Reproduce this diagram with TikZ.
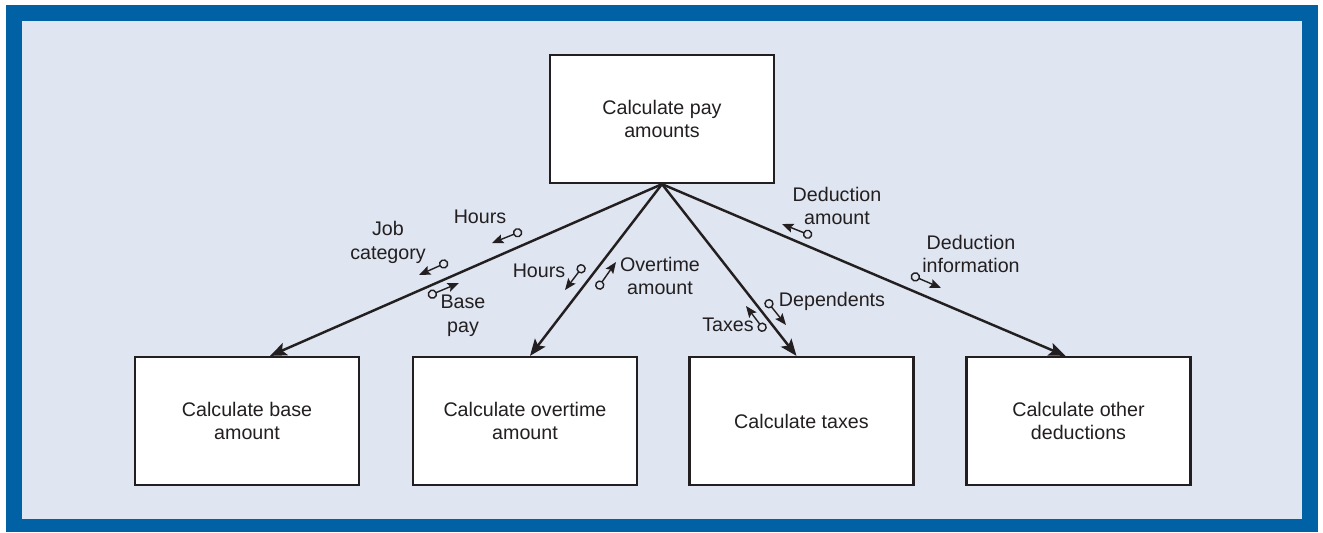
\documentclass[tikz,border=0pt]{standalone}
\usepackage{fontspec}
\setmainfont{Liberation Sans}
\usetikzlibrary{arrows.meta}

\definecolor{frameblue}{RGB}{0,97,165}
\definecolor{panel}{RGB}{223,229,241}
\definecolor{ink}{RGB}{35,31,32}

\tikzset{
  module/.style={draw=ink,fill=white,line width=1.3pt,minimum width=4.48cm,minimum height=2.56cm,align=center,text=ink},
  call/.style={draw=ink,line width=1.4pt,-{Stealth[length=9.5pt,width=7.5pt,inset=2pt]}},
  couple/.style={draw=ink,line width=.8pt,{Circle[open,length=5.4pt,width=5.4pt,line width=.8pt]}-{Stealth[length=6.5pt,width=5.2pt,inset=1.2pt]}},
  flow/.style={align=center,text=ink,inner sep=0pt}
}

\begin{document}
\begin{tikzpicture}[x=.02cm,y=-.02cm,font=\fontsize{11.2pt}{13.6pt}\selectfont]
\useasboundingbox (0,0) rectangle (1323,532);
\fill[frameblue] (6,5) rectangle (1318,532);
\fill[panel] (22,21) rectangle (1302,519);

% modules
\node[module] (pay) at (662,119) {Calculate pay\\amounts};
\node[module] (base) at (247,421) {Calculate base\\amount};
\node[module] (over) at (525,421) {Calculate overtime\\amount};
\node[module] (tax) at (801.5,421) {Calculate taxes};
\node[module] (ded) at (1078.5,421) {Calculate other\\deductions};

% calls
\draw[call] (pay.south) -- ([xshift=4.6mm]base.north);
\draw[call] (pay.south) -- ([xshift=1mm]over.north);
\draw[call] (pay.south) -- ([xshift=-1mm]tax.north);
\draw[call] (pay.south) -- ([xshift=-2.6mm]ded.north);

% data couples
\draw[couple] (522,231) -- (492,243);
\draw[couple] (448,262) -- (419,275);
\draw[couple] (428,296) -- (459,283);
\draw[couple] (584,265) -- (565,290);
\draw[couple] (597,289) -- (616,262);
\draw[couple] (766,300) -- (786,325);
\draw[couple] (765,331) -- (746,306);
\draw[couple] (812,236) -- (782,224);
\draw[couple] (911,275) -- (941,288);

\node[flow] (hrs1) at (480,217) {Hours};
\node[flow] (job) at (388,242) {Job\\category};
\node[flow] (bpay) at (463,316) {Base\\pay};
\node[flow] (hrs2) at (539,271) {Hours};
\node[flow] (otamt) at (660,276) {Overtime\\amount};
\node[flow] (deps) at (832,301) {Dependents};
\node[flow] (taxes) at (728,325) {Taxes};
\node[flow] (dedamt) at (837,206) {Deduction\\amount};
\node[flow] (dedinf) at (971,254) {Deduction\\information};
\end{tikzpicture}
\end{document}
